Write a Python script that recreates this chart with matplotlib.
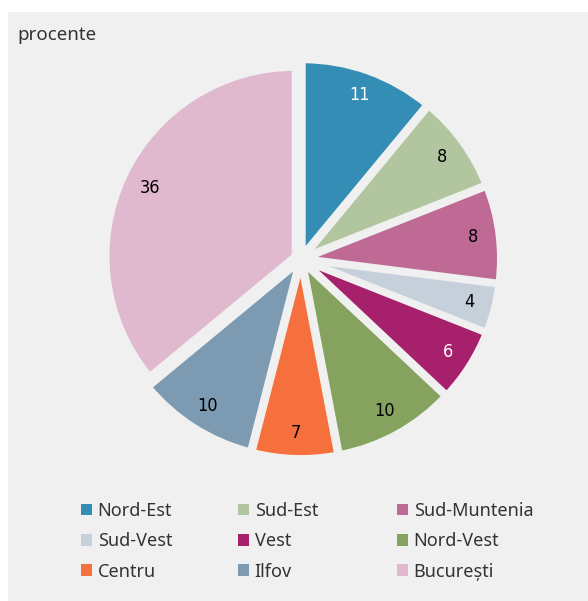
import math
import matplotlib
matplotlib.use('Agg')
import matplotlib.pyplot as plt
from matplotlib.patches import Patch, Rectangle

# Data: shares by region (procente)
regions = ['Nord-Est', 'Sud-Est', 'Sud-Muntenia', 'Sud-Vest', 'Vest',
           'Nord-Vest', 'Centru', 'Ilfov', 'București']
shares = [11, 8, 8, 4, 6, 10, 7, 10, 36]
colors = ['#338db4', '#b1c69e', '#be6a95', '#c6d0da', '#a6206c',
          '#85a35e', '#f5703c', '#7c9bb3', '#e0b9cf']
value_colors = ['white', 'black', 'black', 'black', 'white',
                'black', 'black', 'black', 'black']

bg = '#f0f0f0'
W, H = 588, 601

fig = plt.figure(figsize=(W / 100, H / 100), dpi=100)
fig.add_artist(Rectangle((8 / W, 0), 1, (H - 12) / H, transform=fig.transFigure,
                         facecolor=bg, edgecolor='none', zorder=-5))

ax = fig.add_axes([0.116, 0.1817, 0.7918, 0.7747])
ax.set_facecolor('none')

explode = [0.026] * 8 + [0.036]
wedges, texts, autotexts = ax.pie(
    shares, colors=colors, startangle=90, counterclock=False,
    explode=explode, pctdistance=0.87,
    autopct=lambda p: f'{p * sum(shares) / 100:.0f}',
    wedgeprops=dict(edgecolor=bg, linewidth=4.3),
    textprops=dict(family='DejaVu Sans', stretch='condensed', fontsize=13))

for t, c in zip(autotexts, value_colors):
    t.set_color(c)

# Bucuresti slice is drawn slightly smaller
w = wedges[-1]
w.set_radius(0.97)
mid = math.radians((w.theta1 + w.theta2) / 2)
cx, cy = w.center
autotexts[-1].set_position((cx + 0.85 * w.r * math.cos(mid),
                            cy + 0.85 * w.r * math.sin(mid)))

ax.set_xlim(-1.2, 1.2)
ax.set_ylim(-1.2, 1.2)

fig.text(17 / W, 1 - 35 / H, 'procente', ha='left', va='center',
         fontsize=13.5, color='#333333', family='Noto Sans')

# legend, filled row by row in 3 columns
col_x = [81, 238, 397]
for j in range(3):
    idx = [j, j + 3, j + 6]
    handles = [Patch(facecolor=colors[i], edgecolor='none') for i in idx]
    fig.legend(handles, [regions[i] for i in idx], loc='upper left',
               bbox_to_anchor=(col_x[j] / W, 1 - 502 / H), frameon=False,
               borderpad=0, borderaxespad=0, handlelength=0.62, handleheight=0.62,
               handletextpad=0.3, labelspacing=0.68,
               prop=dict(family='Noto Sans', size=13), labelcolor='#333333')

fig.savefig('out.png', dpi=100, facecolor='white')
